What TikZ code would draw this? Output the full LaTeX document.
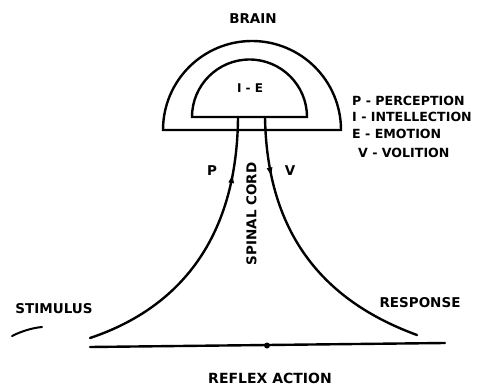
\documentclass[tikz,border=0pt]{standalone}
\usepackage{fontspec}
\setmainfont{DejaVu Sans}
\usetikzlibrary{arrows.meta,decorations.markings}
\tikzset{
  ln/.style={line width=2.4pt, line cap=round},
  lbl/.style={inner sep=0pt, font=\bfseries\fontsize{13.5}{15}\selectfont},
  leg/.style={inner sep=0pt, anchor=west, font=\bfseries\fontsize{12.6}{14}\selectfont},
}
\begin{document}
\begin{tikzpicture}[x=1pt,y=-1pt]
\useasboundingbox[fill=white] (0,0) rectangle (482,385);
% brain outlines
\draw[ln] (163,130) arc[start angle=180, end angle=360, radius=89] -- cycle;
\draw[ln] (192,117) arc[start angle=180, end angle=360, radius=57.5] -- cycle;
% named points
\coordinate (pTop) at (238,117);
\coordinate (pBot) at (90,338);
\coordinate (vTop) at (265,117);
\coordinate (vBot) at (417,335);
\coordinate (rL) at (90,347);
\coordinate (rR) at (445,343);
\coordinate (sA) at (12,336);
\coordinate (sB) at (42,327);
% sensory path (P)
\draw[ln, postaction={decorate}, decoration={markings,
  mark=at position 0.2 with {\arrowreversed[line width=1pt]{Latex[length=9pt,width=6pt]}}}]
  (pTop) .. controls (237,250) and (168,312) .. (pBot);
% motor path (V)
\draw[ln, postaction={decorate}, decoration={markings,
  mark=at position 0.21 with {\arrow[line width=1pt]{Latex[length=9pt,width=6pt]}}}]
  (vTop) .. controls (267,245) and (335,305) .. (vBot);
% reflex line
\draw[ln] (rL) -- (rR);
\node[circle, fill=black, inner sep=0pt, minimum size=6pt] (dot) at (267,345.5) {};
% stimulus stroke
\draw[ln, line width=2pt] (sA) .. controls (22,331) and (32,328) .. (sB);
% labels
\node[lbl] (brain) at (253,19) {BRAIN};
\node[lbl, font=\bfseries\fontsize{12}{14}\selectfont] (ie) at (250,88) {I - E};
\node[lbl] (p) at (212,171) {P};
\node[lbl] (v) at (290,171) {V};
\node[lbl, rotate=90] (sc) at (251.5,214) {SPINAL CORD};
\node[lbl] (stim) at (54,309) {STIMULUS};
\node[lbl] (resp) at (420,303) {RESPONSE};
\node[lbl, font=\bfseries\fontsize{14}{16}\selectfont] (ra) at (270,378) {REFLEX ACTION};
% legend
\node[leg] (l1) at (352,101) {P - PERCEPTION};
\node[leg] (l2) at (352,117) {I - INTELLECTION};
\node[leg] (l3) at (352,134) {E - EMOTION};
\node[leg] (l4) at (358,153) {V - VOLITION};
\end{tikzpicture}
\end{document}
